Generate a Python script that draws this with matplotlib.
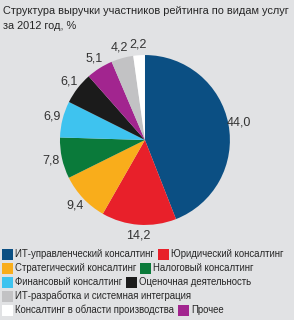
import matplotlib.pyplot as plt
from matplotlib.patches import Rectangle

plt.rcParams['font.family'] = ['Liberation Sans', 'DejaVu Sans']

title_lines = ['Структура выручки участников рейтинга по видам услуг', 'за 2012 год, %']
categories = ['ИТ-управленческий консалтинг', 'Юридический консалтинг',
              'Стратегический консалтинг', 'Налоговый консалтинг',
              'Финансовый консалтинг', 'Оценочная деятельность',
              'Прочее', 'ИТ-разработка и системная интеграция',
              'Консалтинг в области производства']
values = [44.0, 14.2, 9.4, 7.8, 6.9, 6.1, 5.1, 4.2, 2.2]
colors = ['#0b4f83', '#e8202a', '#f9ad1b', '#0a7a3a', '#3ec3ef',
          '#1b1b1b', '#a2258f', '#c2c2c4', '#ffffff']
legend_rows = [[0, 1], [2, 3], [4, 5], [7], [8, 6]]

bg = '#e1e2e4'
fig = plt.figure(figsize=(2.94, 3.2), dpi=100, facecolor=bg)
renderer = fig.canvas.get_renderer()
W, H = fig.get_size_inches() * fig.dpi


def fit(t, target_px):
    # shrink/grow a text so it spans target_px
    w = t.get_window_extent(renderer).width
    t.set_fontsize(t.get_fontsize() * target_px / w)


t1 = fig.text(3 / W, 1 - 11 / H, title_lines[0], ha='left', va='center',
              fontsize=9.5, color='#262626')
fit(t1, 285)
fig.text(3 / W, 1 - 26 / H, title_lines[1], ha='left', va='center',
         fontsize=t1.get_fontsize(), color='#262626')

ax = fig.add_axes([0.204, 0.297, 0.578, 0.531])
ax.set_facecolor(bg)
labels = [f'{v:.1f}'.replace('.', ',') for v in values]
wedges, texts = ax.pie(values, colors=colors, startangle=90, counterclock=False,
                       labels=labels, labeldistance=1.13,
                       textprops=dict(fontsize=9, color='#333333'))
for t in texts:
    t.set_clip_on(False)
    t.set_ha('center')
    t.set_va('center')
ax.set_xlim(-1, 1)
ax.set_ylim(-1, 1)
ax.set_aspect('equal')
ax.axis('off')

# legend laid out in rows
y = 1 - 254 / H
step = 14 / H
probe = fig.text(0, 0, categories[0] + categories[1], fontsize=9)
w = probe.get_window_extent(renderer).width
probe.remove()
fs = 9 * (287 - 2 - 13 - 4 - 13) / w
for row in legend_rows:
    x = 2 / W
    for i in row:
        fig.patches.append(Rectangle((x, y - 5.5 / H), 11 / W, 11 / H,
                                     transform=fig.transFigure,
                                     facecolor=colors[i], edgecolor='none'))
        t = fig.text(x + 13 / W, y, categories[i], ha='left', va='center',
                     fontsize=fs, color='#262626')
        bb = t.get_window_extent(renderer)
        x = bb.x1 / W + 4 / W
    y -= step

fig.savefig('out.png', dpi=100, facecolor=bg)
